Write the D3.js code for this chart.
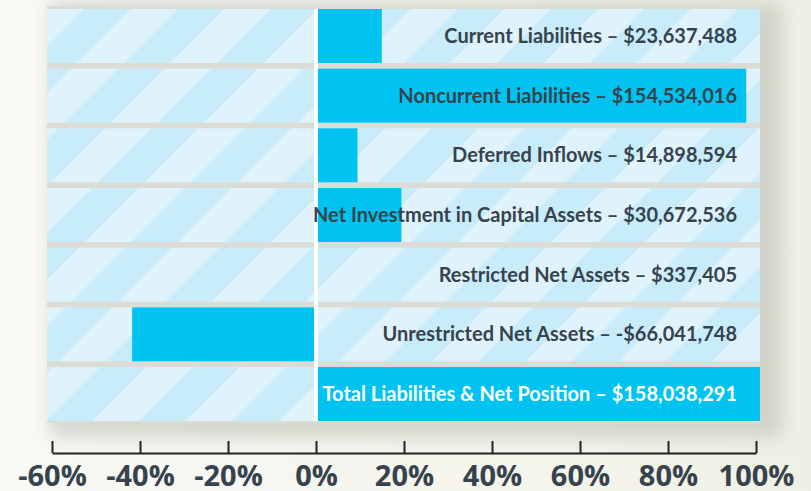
<!DOCTYPE html>
<html><head><meta charset="utf-8">
<script src="https://cdn.jsdelivr.net/npm/d3@7"></script>
<style>html,body{margin:0;padding:0;background:#f6f6f0;}svg{display:block;}</style>
</head><body>
<script>
const categories = ["Current Liabilities","Noncurrent Liabilities","Deferred Inflows","Net Investment in Capital Assets","Restricted Net Assets","Unrestricted Net Assets","Total Liabilities & Net Position"];
const amounts = [23637488,154534016,14898594,30672536,337405,-66041748,158038291];
const amountLabels = ["$23,637,488","$154,534,016","$14,898,594","$30,672,536","$337,405","-$66,041,748","$158,038,291"];
const tickValues = [-60,-40,-20,0,20,40,60,80,100];
const total = amounts[amounts.length-1];

const W=811,H=491;
const svg=d3.select("body").append("svg").attr("width",W).attr("height",H);
const defs=svg.append("defs");
const bg=defs.append("linearGradient").attr("id","bg").attr("x1",0).attr("x2",1).attr("y1",0).attr("y2",0);
bg.append("stop").attr("offset","0%").attr("stop-color","#f9f9f5");
bg.append("stop").attr("offset","70%").attr("stop-color","#f4f4ec");
bg.append("stop").attr("offset","100%").attr("stop-color","#efefe4");
svg.append("rect").attr("width",W).attr("height",H).attr("fill","url(#bg)");

defs.append("filter").attr("id","blur").attr("x","-20%").attr("y","-20%").attr("width","140%").attr("height","140%")
  .append("feGaussianBlur").attr("stdDeviation",9);
const pat=defs.append("pattern").attr("id","stripes").attr("patternUnits","userSpaceOnUse")
  .attr("width",66).attr("height",66).attr("patternTransform","rotate(45)");
pat.append("rect").attr("width",66).attr("height",66).attr("fill","#e0f3fc");
pat.append("rect").attr("width",33).attr("height",66).attr("fill","#c8ecfa");

const x=d3.scaleLinear().domain([-60,100]).range([52,756]);
const y=d3.scaleBand().domain(categories).range([9,421]).paddingInner(0.095).paddingOuter(0);

const left=x(-60)-5, right=x(100)+4, mid=x(0);
// shadow
svg.append("rect").attr("x",left+4).attr("y",2).attr("width",right-left+18).attr("height",436)
  .attr("fill","#b9b9b0").attr("opacity",0.55).attr("filter","url(#blur)");
// panel base (gaps)
svg.append("rect").attr("x",left).attr("y",y.range()[0]-3).attr("width",right-left).attr("height",y.range()[1]-y.range()[0]+5)
  .attr("fill","#dcdcd6");

const rows=svg.append("g").selectAll("g").data(categories).join("g");
rows.append("rect").attr("x",left).attr("y",d=>y(d)).attr("width",mid-2-left).attr("height",y.bandwidth()).attr("fill","url(#stripes)");
rows.append("rect").attr("x",mid+2).attr("y",d=>y(d)).attr("width",right-mid-2).attr("height",y.bandwidth()).attr("fill","url(#stripes)");
// white divider
svg.append("rect").attr("x",mid-2).attr("y",y.range()[0]).attr("width",4).attr("height",y.range()[1]-y.range()[0]).attr("fill","#ffffff");

const share=amounts.map(v=>v/total*100);
svg.append("g").selectAll("rect").data(categories).join("rect")
  .attr("x",(d,i)=> share[i]>=0 ? mid+2 : x(share[i]))
  .attr("y",d=>y(d))
  .attr("width",(d,i)=> share[i]>=0 ? Math.max(0,(i===categories.length-1? right : x(share[i]))-mid-2) : mid-2-x(share[i]))
  .attr("height",y.bandwidth())
  .attr("fill","#00c3f1");

svg.append("g").selectAll("text").data(categories).join("text")
  .attr("x",737).attr("y",d=>y(d)+y.bandwidth()/2+7)
  .attr("text-anchor","end")
  .attr("font-family","Lato, 'Open Sans', sans-serif").attr("font-weight",700).attr("font-size",20)
  .attr("fill",(d,i)=> i===categories.length-1 ? "#ffffff" : "#36434d")
  .text((d,i)=> d+" \u2013 "+amountLabels[i]);

const ax=d3.axisBottom(x).tickValues(tickValues).tickFormat(d=>d+"%").tickSizeInner(-12).tickSizeOuter(0).tickPadding(12);
const ag=svg.append("g").attr("transform","translate(0,453)").call(ax);
ag.select(".domain").attr("stroke","#222").attr("stroke-width",2);
ag.selectAll(".tick line").attr("stroke","#222").attr("stroke-width",2);
ag.selectAll(".tick text").attr("font-family","'Open Sans', sans-serif").attr("font-weight",700).attr("font-size",29).attr("fill","#36434d");
</script>
</body></html>
